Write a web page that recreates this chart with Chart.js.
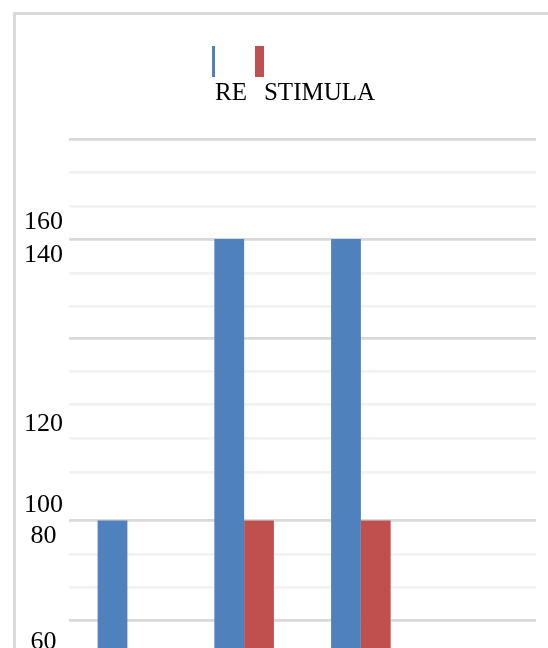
<!DOCTYPE html>
<html>
<head>
<meta charset="utf-8">
<script src="https://cdn.jsdelivr.net/npm/chart.js@4/dist/chart.umd.min.js"></script>
<style>
  html, body { margin: 0; padding: 0; background: #fff; overflow: hidden; }
  #frame {
    position: absolute; left: 13px; top: 12px; width: 700px; height: 800px;
    border-left: 3px solid #d9d9d9; border-top: 3px solid #d9d9d9;
  }
  #chart { position: absolute; left: 0; top: 0; }
  #legend {
    position: absolute; left: 212px; top: 46px; display: flex; align-items: flex-start;
    font-family: "Liberation Serif", "Times New Roman", serif; font-size: 25px; line-height: 25px; color: #000;
  }
  .item { display: flex; align-items: flex-start; margin-right: 8px; }
  .box { height: 31px; }
  .txt { padding-top: 33px; white-space: nowrap; }
</style>
</head>
<body>
<div id="frame"></div>
<canvas id="chart" width="548" height="730"></canvas>
<div id="legend"></div>
<script>
// data
const categories = ['', '', '', ''];
const seriesNames = ['RE', 'STIMULA'];
const reValues = [80, 140, 140, null];
const stimulaValues = [null, 80, 80, null];
const tickLabels = ['160', '140', '120', '100', '80', '60'];

// where the (broken) axis puts its labels and grid lines, in axis units
const labelValues = [143.62, 136.6, 100.64, 83.19, 76.6, 54.04];
const majorGrid = [161.28, 140, 118.72, 80, 58.72];
const minorGrid = [154.26, 147.02, 132.77, 125.74, 111.7, 104.68, 97.45, 90.21, 72.77, 65.74];
const yMin = 40, yMax = 161.28;

const colors = ['#4f81bd', '#c0504d'];
const legendBoxWidths = [3, 9];
const serif = 'Liberation Serif';

const chart = new Chart(document.getElementById('chart'), {
  type: 'bar',
  data: {
    labels: categories,
    datasets: [
      { label: seriesNames[0], data: reValues, backgroundColor: colors[0] },
      { label: seriesNames[1], data: stimulaValues, backgroundColor: colors[1] }
    ]
  },
  options: {
    responsive: false,
    animation: false,
    layout: { padding: { top: 139, right: 12, bottom: 11, left: 0 } },
    datasets: { bar: { categoryPercentage: 0.51, barPercentage: 1 } },
    plugins: { legend: { display: false }, tooltip: { enabled: false } },
    scales: {
      x: { display: false },
      y: {
        min: yMin, max: yMax, weight: 0,
        border: { display: false },
        ticks: { display: false },
        afterBuildTicks: s => {
          s.ticks = majorGrid.concat(minorGrid).sort((a, b) => b - a).map(v => ({ value: v }));
        },
        grid: {
          drawTicks: false,
          lineWidth: 2.7,
          color: c => majorGrid.includes(c.tick.value) ? '#d9d9d9' : '#f2f2f2'
        }
      },
      yLabels: {
        type: 'linear', position: 'left', min: yMin, max: yMax, weight: 1,
        border: { display: false },
        grid: { display: false, drawTicks: false },
        afterBuildTicks: s => { s.ticks = labelValues.map(v => ({ value: v })); },
        afterFit: s => { s.width = 69; },
        ticks: {
          autoSkip: false, padding: 6, crossAlign: 'center', color: '#000',
          font: { family: serif, size: 26 },
          callback: (v, i) => tickLabels[i]
        }
      }
    }
  }
});

// legend: box with the name set just under it
const legend = document.getElementById('legend');
chart.data.datasets.forEach((ds, i) => {
  const item = document.createElement('div');
  item.className = 'item';
  const box = document.createElement('span');
  box.className = 'box';
  box.style.width = legendBoxWidths[i] + 'px';
  box.style.background = ds.backgroundColor;
  const txt = document.createElement('span');
  txt.className = 'txt';
  txt.textContent = ds.label;
  item.appendChild(box);
  item.appendChild(txt);
  legend.appendChild(item);
});
</script>
</body>
</html>
